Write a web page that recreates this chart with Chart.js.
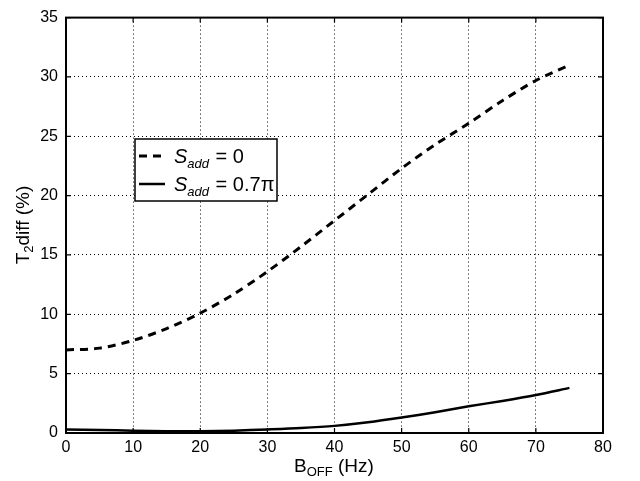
<!DOCTYPE html>
<html><head><meta charset="utf-8">
<script src="https://cdn.jsdelivr.net/npm/chart.js@4/dist/chart.umd.min.js"></script>
<style>html,body{margin:0;padding:0;background:#fff}#wrap{width:640px;height:481px}</style>
</head><body><div id="wrap"><canvas id="c" width="640" height="481"></canvas></div>
<script>
const bOff = [0,5,10,15,20,25,30,35,40,45,50,55,60,65,70,75];
const sAdd0 = [7.0,7.15,7.8,8.8,10.1,11.7,13.6,15.7,17.9,20.1,22.3,24.3,26.1,28.0,29.7,31.0];
const sAdd07pi = [0.3,0.25,0.2,0.15,0.15,0.2,0.3,0.42,0.6,0.9,1.3,1.75,2.25,2.7,3.2,3.8];
const xTicks = [0,10,20,30,40,50,60,70,80];
const yTicks = [0,5,10,15,20,25,30,35];
const legendMain = ["S","S"];
const legendSub = ["add","add"];
const legendRest = [" = 0"," = 0.7\u03C0"];

const FONT = '"Liberation Sans", Arial, sans-serif';

const deco = {
  id:'deco',
  afterDraw(chart){
    const ctx = chart.ctx, a = chart.chartArea;
    const xs = chart.scales.x, ys = chart.scales.y;
    ctx.save();
    ctx.strokeStyle='#000'; ctx.lineWidth=1.2;
    xTicks.forEach(v=>{const x=xs.getPixelForValue(v);
      ctx.beginPath();ctx.moveTo(x,a.bottom);ctx.lineTo(x,a.bottom-5);ctx.moveTo(x,a.top);ctx.lineTo(x,a.top+5);ctx.stroke();});
    yTicks.forEach(v=>{const y=ys.getPixelForValue(v);
      ctx.beginPath();ctx.moveTo(a.left,y);ctx.lineTo(a.left+5,y);ctx.moveTo(a.right,y);ctx.lineTo(a.right-5,y);ctx.stroke();});
    ctx.lineWidth=2;
    ctx.strokeRect(a.left,a.top,a.right-a.left,a.bottom-a.top);
    ctx.fillStyle='#000';
    ctx.textBaseline='alphabetic';
    let cx = 334, by = 472;
    const p1='B', p2='OFF', p3=' (Hz)';
    ctx.font='19px '+FONT; const w1=ctx.measureText(p1).width, w3=ctx.measureText(p3).width;
    ctx.font='13px '+FONT; const w2=ctx.measureText(p2).width;
    let sx = cx-(w1+w2+w3)/2;
    ctx.font='19px '+FONT; ctx.textAlign='left'; ctx.fillText(p1,sx,by);
    ctx.font='13px '+FONT; ctx.fillText(p2,sx+w1,by+4);
    ctx.font='19px '+FONT; ctx.fillText(p3,sx+w1+w2,by);
    ctx.save();
    ctx.translate(29,225); ctx.rotate(-Math.PI/2);
    const q1='T', q2='2', q3='diff (%)';
    ctx.font='19px '+FONT; const v1=ctx.measureText(q1).width, v3=ctx.measureText(q3).width;
    ctx.font='13px '+FONT; const v2=ctx.measureText(q2).width;
    let sy=-(v1+v2+v3)/2;
    ctx.font='19px '+FONT; ctx.fillText(q1,sy,0);
    ctx.font='13px '+FONT; ctx.fillText(q2,sy+v1,4);
    ctx.font='19px '+FONT; ctx.fillText(q3,sy+v1+v2,0);
    ctx.restore();
    const lx=135, ly=139, lw=142, lh=62;
    ctx.fillStyle='#fff'; ctx.fillRect(lx,ly,lw,lh);
    ctx.strokeStyle='#000'; ctx.lineWidth=1.5; ctx.strokeRect(lx,ly,lw,lh);
    chart.data.datasets.forEach((ds,i)=>{
      const yy = ly+17+i*28;
      ctx.save();
      ctx.strokeStyle='#000'; ctx.lineWidth=ds.borderWidth; ctx.setLineDash(ds.borderDash||[]);
      ctx.beginPath(); ctx.moveTo(lx+4,yy); ctx.lineTo(lx+30,yy); ctx.stroke();
      ctx.restore();
      ctx.fillStyle='#000';
      let tx=lx+39, bl=yy+7;
      ctx.font='italic 20px '+FONT; ctx.fillText(legendMain[i],tx,bl); tx+=ctx.measureText(legendMain[i]).width;
      ctx.font='italic 13px '+FONT; ctx.fillText(legendSub[i],tx,bl+5); tx+=ctx.measureText(legendSub[i]).width;
      ctx.font='20px '+FONT; ctx.fillText(legendRest[i],tx+1,bl);
    });
    ctx.restore();
  }
};

new Chart(document.getElementById('c'),{
  type:'line',
  data:{labels:bOff,datasets:[
    {data:bOff.map((x,i)=>({x,y:sAdd0[i]})),borderColor:'#000',borderWidth:3,borderDash:[8,6],pointRadius:0,tension:0.3,fill:false},
    {data:bOff.map((x,i)=>({x,y:sAdd07pi[i]})),borderColor:'#000',borderWidth:2.5,pointRadius:0,tension:0.3,fill:false}
  ]},
  options:{
    responsive:false,animation:false,
    layout:{padding:{top:15,right:37,left:0,bottom:0}},
    plugins:{legend:{display:false},tooltip:{enabled:false}},
    scales:{
      x:{type:'linear',min:0,max:80,
        afterBuildTicks(s){s.ticks=xTicks.map(v=>({value:v}));},
        afterFit(s){s.height=48;},
        grid:{color:'#000',lineWidth:1,drawTicks:false},
        border:{display:false,dash:[1,3]},
        ticks:{color:'#000',font:{family:FONT,size:16},padding:5,maxRotation:0}},
      y:{type:'linear',min:0,max:35,
        afterBuildTicks(s){s.ticks=yTicks.map(v=>({value:v}));},
        afterFit(s){s.width=66;},
        grid:{color:'#000',lineWidth:1,drawTicks:false},
        border:{display:false,dash:[1,3]},
        ticks:{color:'#000',font:{family:FONT,size:16},padding:8}}
    }
  },
  plugins:[deco]
});
</script></body></html>
